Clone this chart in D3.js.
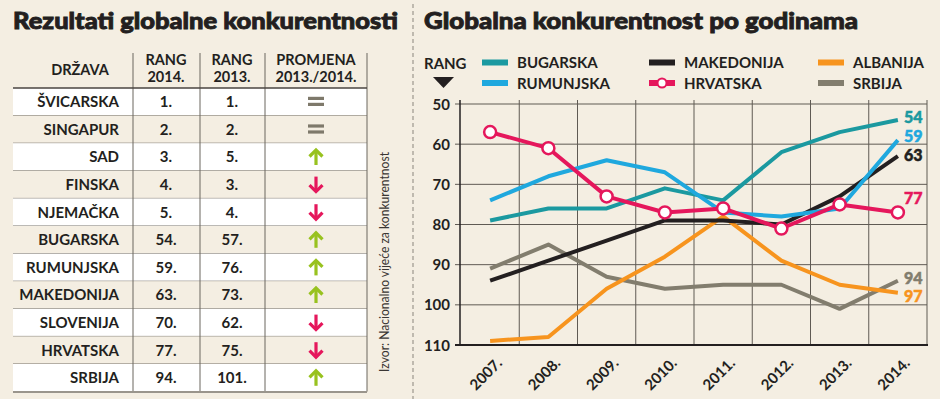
<!DOCTYPE html>
<html>
<head>
<meta charset="utf-8">
<script src="https://cdn.jsdelivr.net/npm/d3@7"></script>
<style>
  body { margin: 0; background: #f4eee2; }
  svg { display: block; font-family: Lato, "Open Sans", sans-serif; }
</style>
</head>
<body>
<div id="chart"></div>
<script>
// ---- table data ----
var countries = ["ŠVICARSKA", "SINGAPUR", "SAD", "FINSKA", "NJEMAČKA", "BUGARSKA",
                 "RUMUNJSKA", "MAKEDONIJA", "SLOVENIJA", "HRVATSKA", "SRBIJA"];
var rank2014 = [1, 2, 3, 4, 5, 54, 59, 63, 70, 77, 94];
var rank2013 = [1, 2, 5, 3, 4, 57, 76, 73, 62, 75, 101];

// ---- line chart data ----
var years = ["2007.", "2008.", "2009.", "2010.", "2011.", "2012.", "2013.", "2014."];
var bugarska   = [79, 76, 76, 71, 74, 62, 57, 54];
var rumunjska  = [74, 68, 64, 67, 77, 78, 76, 59];
var makedonija = [94, 89, 84, 79, 79, 80, 73, 63];
var albanija   = [109, 108, 96, 88, 78, 89, 95, 97];
var hrvatska   = [57, 61, 73, 77, 76, 81, 75, 77];
var srbija     = [91, 85, 93, 96, 95, 95, 101, 94];
var yTicks = [50, 60, 70, 80, 90, 100, 110];

var series = [
  {name: "SRBIJA", values: srbija, color: "#827d6e", dy: -3},
  {name: "ALBANIJA", values: albanija, color: "#f7941e", dy: 3},
  {name: "MAKEDONIJA", values: makedonija, color: "#231f20", dy: -1},
  {name: "BUGARSKA", values: bugarska, color: "#1b99a0", dy: -3},
  {name: "RUMUNJSKA", values: rumunjska, color: "#1fa8de", dy: -4},
  {name: "HRVATSKA", values: hrvatska, color: "#e5175c", dy: -14, markers: true}
];

var dark = "#231f20";
var svg = d3.select("#chart").append("svg")
    .attr("width", 940)
    .attr("height", 399);

// ---------------- LEFT: table ----------------
svg.append("text")
    .attr("x", 13).attr("y", 29)
    .attr("font-size", 23).attr("font-weight", 900)
    .attr("fill", dark).attr("stroke", dark).attr("stroke-width", 0.9)
    .attr("textLength", 385).attr("lengthAdjust", "spacingAndGlyphs")
    .text("Rezultati globalne konkurentnosti");

var tLeft = 13, tRight = 367, tTop = 88, rowH = 27.6;
var colSep = [133, 200, 265, 367];

// header
var header = svg.append("g").attr("font-weight", 700).attr("font-size", 14.5).attr("fill", dark)
    .attr("text-anchor", "middle");
header.append("text").attr("x", 80).attr("y", 75).text("DRŽAVA");
[[166, "RANG", "2014."], [232, "RANG", "2013."], [316, "PROMJENA", "2013./2014."]].forEach(function(h) {
  header.append("text").attr("x", h[0]).attr("y", 65).text(h[1]);
  header.append("text").attr("x", h[0]).attr("y", 82).text(h[2]);
});
colSep.forEach(function(x) {
  svg.append("line").attr("x1", x).attr("x2", x).attr("y1", 53).attr("y2", tTop)
      .attr("stroke", "#6b665f").attr("stroke-width", 1);
});

var rows = svg.append("g").selectAll("g")
    .data(countries)
    .enter().append("g")
    .attr("transform", function(d, i) { return "translate(0," + (tTop + i * rowH) + ")"; });

rows.append("rect")
    .attr("x", tLeft).attr("width", tRight - tLeft).attr("height", rowH)
    .attr("fill", function(d, i) { return i % 2 === 0 ? "#ffffff" : "#f4eee2"; });

rows.append("line")
    .attr("x1", tLeft).attr("x2", tRight).attr("y1", rowH).attr("y2", rowH)
    .attr("stroke", "#77726a").attr("stroke-width", 1);

rows.append("text")
    .attr("x", 119).attr("y", rowH / 2 + 5.5)
    .attr("text-anchor", "end").attr("font-weight", 700).attr("font-size", 15).attr("fill", dark)
    .text(function(d) { return d; });

rows.append("text")
    .attr("x", 166).attr("y", rowH / 2 + 5.5)
    .attr("text-anchor", "middle").attr("font-weight", 700).attr("font-size", 15).attr("fill", dark)
    .text(function(d, i) { return rank2014[i] + "."; });

rows.append("text")
    .attr("x", 232).attr("y", rowH / 2 + 5.5)
    .attr("text-anchor", "middle").attr("font-weight", 700).attr("font-size", 15).attr("fill", dark)
    .text(function(d, i) { return rank2013[i] + "."; });

// change symbol
rows.each(function(d, i) {
  var g = d3.select(this).append("g").attr("transform", "translate(316," + (rowH / 2) + ")");
  var diff = rank2013[i] - rank2014[i];
  if (diff === 0) {
    g.append("rect").attr("x", -8).attr("y", -5).attr("width", 16).attr("height", 3.2).attr("fill", "#7e796b");
    g.append("rect").attr("x", -8).attr("y", 1).attr("width", 16).attr("height", 3.2).attr("fill", "#7e796b");
  } else {
    var up = diff > 0;
    var c = up ? "#98c21f" : "#e5175c";
    var s = up ? 1 : -1;
    g.append("line").attr("x1", 0).attr("x2", 0).attr("y1", -7 * s).attr("y2", 8 * s)
        .attr("stroke", c).attr("stroke-width", 3.2);
    g.append("path")
        .attr("d", "M-6.5," + (-0.5 * s) + "L0," + (-7 * s) + "L6.5," + (-0.5 * s))
        .attr("fill", "none").attr("stroke", c).attr("stroke-width", 3.2);
  }
});

colSep.forEach(function(x) {
  svg.append("line").attr("x1", x).attr("x2", x).attr("y1", tTop)
      .attr("y2", tTop + countries.length * rowH)
      .attr("stroke", "#6b665f").attr("stroke-width", 1);
});
svg.append("line").attr("x1", tLeft).attr("x2", tRight).attr("y1", tTop).attr("y2", tTop)
    .attr("stroke", "#4a4541").attr("stroke-width", 1.5);
svg.append("line").attr("x1", tLeft).attr("x2", tRight)
    .attr("y1", tTop + countries.length * rowH + 0.5).attr("y2", tTop + countries.length * rowH + 0.5)
    .attr("stroke", "#9a958c").attr("stroke-width", 2);

// source
svg.append("text")
    .attr("transform", "translate(389,372) rotate(-90)")
    .attr("font-size", 13).attr("fill", "#3a3633")
    .attr("textLength", 220).attr("lengthAdjust", "spacingAndGlyphs")
    .text("Izvor: Nacionalno vijeće za konkurentnost");

// separator
svg.append("line").attr("x1", 413).attr("x2", 413).attr("y1", 4).attr("y2", 399)
    .attr("stroke", "#8a857c").attr("stroke-width", 1).attr("stroke-dasharray", "4,3");

// ---------------- RIGHT: line chart ----------------
svg.append("text")
    .attr("x", 424).attr("y", 29)
    .attr("font-size", 23).attr("font-weight", 900)
    .attr("fill", dark).attr("stroke", dark).attr("stroke-width", 0.9)
    .attr("textLength", 434).attr("lengthAdjust", "spacingAndGlyphs")
    .text("Globalna konkurentnost po godinama");

var x = d3.scaleBand().domain(years).range([461, 927]).padding(0);
var y = d3.scaleLinear().domain([50, 110]).range([104, 345]);

// grid
var grid = svg.append("g");
grid.selectAll(".h").data(yTicks).enter().append("line")
    .attr("x1", 455).attr("x2", 927)
    .attr("y1", function(d) { return y(d); }).attr("y2", function(d) { return y(d); })
    .attr("stroke", "#5f5a53").attr("stroke-width", 1);
grid.selectAll(".v").data(years).enter().append("line")
    .attr("x1", function(d) { return x(d) + x.bandwidth(); })
    .attr("x2", function(d) { return x(d) + x.bandwidth(); })
    .attr("y1", 100).attr("y2", 345)
    .attr("stroke", "#5f5a53").attr("stroke-width", 1);
grid.append("line").attr("x1", 460).attr("x2", 460).attr("y1", 100).attr("y2", 346)
    .attr("stroke", dark).attr("stroke-width", 1.5);
grid.append("line").attr("x1", 455).attr("x2", 928).attr("y1", 345).attr("y2", 345)
    .attr("stroke", dark).attr("stroke-width", 2);

// y labels
svg.append("g").selectAll("text").data(yTicks).enter().append("text")
    .attr("x", 450).attr("y", function(d) { return y(d) + 5.5; })
    .attr("text-anchor", "end").attr("font-weight", 700).attr("font-size", 15).attr("fill", dark)
    .text(function(d) { return d; });

// x labels
svg.append("g").selectAll("text").data(years).enter().append("text")
    .attr("transform", function(d) {
      return "translate(" + (x(d) + x.bandwidth() / 2 + 13) + ",364) rotate(-45)";
    })
    .attr("text-anchor", "end").attr("font-weight", 700).attr("font-size", 15).attr("fill", dark)
    .text(function(d) { return d; });

// lines
var line = d3.line()
    .x(function(d, i) { return x(years[i]) + x.bandwidth() / 2; })
    .y(function(d) { return y(d); });

series.forEach(function(s) {
  svg.append("path")
      .attr("d", line(s.values))
      .attr("fill", "none")
      .attr("stroke", s.color)
      .attr("stroke-width", 4)
      .attr("stroke-linejoin", "round");
  if (s.markers) {
    svg.append("g").selectAll("circle").data(s.values).enter().append("circle")
        .attr("cx", function(d, i) { return x(years[i]) + x.bandwidth() / 2; })
        .attr("cy", function(d) { return y(d); })
        .attr("r", 6)
        .attr("fill", "#ffffff")
        .attr("stroke", s.color)
        .attr("stroke-width", 2.5);
  }
  var last = s.values[s.values.length - 1];
  svg.append("text")
      .attr("x", x(years[years.length - 1]) + x.bandwidth() / 2 + 6)
      .attr("y", y(last) + s.dy + 6)
      .attr("font-weight", 900).attr("font-size", 16).attr("fill", s.color)
      .attr("stroke", s.color).attr("stroke-width", 0.5)
      .text(last);
});

// legend
svg.append("text").attr("x", 424).attr("y", 69)
    .attr("font-weight", 700).attr("font-size", 15).attr("fill", dark).text("RANG");
svg.append("path").attr("d", "M433,77L454,77L443.5,88Z").attr("fill", dark);

var legendOrder = ["BUGARSKA", "RUMUNJSKA", "MAKEDONIJA", "HRVATSKA", "ALBANIJA", "SRBIJA"];
var legendCols = [482, 649, 818];
legendOrder.forEach(function(name, i) {
  var s = series.filter(function(d) { return d.name === name; })[0];
  var lx = legendCols[Math.floor(i / 2)];
  var ly = i % 2 === 0 ? 62.5 : 83;
  var g = svg.append("g").attr("transform", "translate(" + lx + "," + ly + ")");
  g.append("rect").attr("x", 0).attr("y", -3).attr("width", 26).attr("height", 6).attr("fill", s.color);
  if (s.markers) {
    g.append("circle").attr("cx", 13).attr("cy", 0).attr("r", 4.5)
        .attr("fill", "#ffffff").attr("stroke", s.color).attr("stroke-width", 2);
  }
  g.append("text").attr("x", 35).attr("y", 5.5)
      .attr("font-weight", 700).attr("font-size", 15).attr("fill", dark).text(name);
});
</script>
</body>
</html>
